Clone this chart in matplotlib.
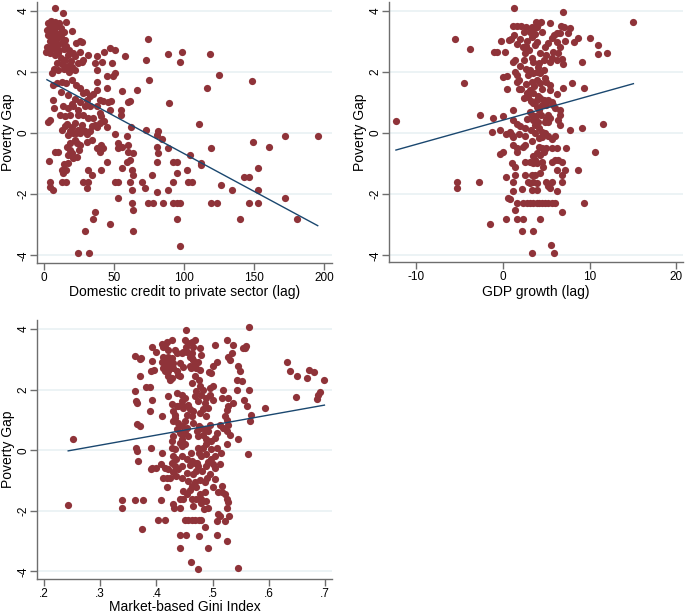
import matplotlib
matplotlib.use("Agg")
import matplotlib.pyplot as plt

plt.rcParams['font.family'] = ['Liberation Sans', 'DejaVu Sans']
plt.rcParams['axes.unicode_minus'] = False

# ---------------- data ----------------
y_label = "Poverty Gap"
y_ticks = [-4, -2, 0, 2, 4]
y_ticklabels = ["-4", "-2", "0", "2", "4"]

# Panel 1: Domestic credit to private sector (lag)
credit_label = "Domestic credit to private sector (lag)"
credit_ticks = [0, 50, 100, 150, 200]
credit_ticklabels = ["0", "50", "100", "150", "200"]
credit_x = [
    7.9, 13.3, 15.5, 3, 5, 8, 11, 4, 6.5, 9,
    12, 2, 5, 8, 10.5, 14, 20, 3, 6, 9,
    12, 15, 4, 7, 10, 13, 16, 2, 5, 8,
    11, 14, 18, 1.5, 4.5, 7.5, 10, 17, 21, 23,
    25.5, 27, 12, 15, 19, 22, 9, 13, 17, 20,
    24, 27, 7, 10, 14, 18, 22, 6, 6.7, 9,
    12.5, 16, 19.8, 23, 25.7, 28, 31, 33, 29, 24.5,
    21, 17.4, 13.8, 11.4, 15, 18.6, 24.5, 28, 31.7, 27,
    22, 15, 12.6, 6.7, 7.4, 4.3, 3, 18.6, 23, 29,
    33, 34, 35, 37.6, 40, 41, 36.4, 33, 35.2, 37.6,
    40, 42.4, 46, 48, 47, 55, 55.3, 43, 37.6, 45,
    49.5, 50.7, 45, 37.6, 36.4, 41.7, 48.3, 37.6, 43, 47,
    51, 58, 25.7, 28, 31.7, 74.5, 72.6, 88.8, 98.6, 97.4,
    75.2, 66.2, 89.5, 55.5, 60, 61.2, 62.1, 59, 50.7, 73,
    81.7, 12, 17, 22, 26, 30, 20, 19.8, 16.5, 17.4,
    21, 24.5, 25.7, 31, 28, 22, 18.6, 23.3, 25.7, 30.5,
    34, 38, 40, 44.8, 53, 55.5, 53, 60, 60, 63.8,
    61.4, 59, 55.5, 62.6, 63.8, 50.7, 53, 61.4, 53, 62.6,
    62.6, 63.8, 47, 63.8, 80.5, 84, 80.5, 81.7, 88.8, 80.5,
    92.4, 94.7, 77, 69.8, 72, 80.5, 88.8, 74.5, 78, 85,
    92.4, 94.7, 97, 92.4, 94.7, 102, 103, 105.5, 104, 95.2,
    97, 24, 32.4, 29.3, 36.4, 35.2, 31.7, 34, 28, 31.7,
    31, 41, 44.8, 40, 42.4, 41, 37.6, 12.6, 16, 13.8,
    16, 12.6, 14.5, 17.4, 21, 23.3, 19.8, 18.6, 16.2, 10.2,
    7.9, 3.8, 4, 4.3, 6.7, 17.4, 25, 118.6, 125, 116.7,
    148.8, 111, 172, 195.5, 149, 160.7, 119, 112, 112, 126.7,
    134, 142.6, 146.6, 152.6, 152.6, 119.3, 123.8, 146.6, 152.6, 172,
    139.8, 181,
]
credit_y = [
    4.08, 3.93, 3.64, 3.6, 3.65, 3.62, 3.6, 3.5, 3.45, 3.5,
    3.42, 3.35, 3.3, 3.3, 3.25, 3.3, 3.34, 3.2, 3.15, 3.1,
    3.12, 3.05, 3.0, 2.95, 2.9, 2.95, 2.85, 2.8, 2.82, 2.75,
    2.7, 2.75, 2.7, 2.65, 2.6, 2.55, 2.6, 2.55, 2.6, 2.93,
    3.02, 2.98, 2.45, 2.4, 2.35, 2.5, 2.3, 2.25, 2.2, 2.15,
    2.3, 2.33, 2.1, 2.05, 2.1, 2.0, 2.05, 1.95, 1.58, 1.63,
    1.68, 1.62, 1.74, 1.58, 1.47, 1.3, 1.09, 0.87, 0.87, 0.76,
    0.87, 0.82, 0.87, 0.6, 0.54, 0.6, 0.6, 0.6, 0.49, 0.27,
    0.33, 0.22, 0.11, 1.09, 0.82, 0.43, 0.37, 0.05, 0.0, 0.05,
    0.05, 0.22, 0.49, 0.87, 0.65, 0.54, 0.27, 1.2, 1.26, 1.41,
    1.09, 1.04, 1.0, 1.04, 0.76, 0.74, 0.6, 0.4, 1.68, 1.85,
    1.87, 1.95, 1.47, 2.07, 2.3, 2.33, 2.28, 2.52, 2.66, 2.77,
    2.72, 2.52, 2.66, 2.4, 2.56, 3.08, 2.39, 2.58, 2.66, 2.32,
    1.72, 1.41, 0.98, 1.36, 1.0, 1.04, 0.18, -0.09, -0.02, 0.11,
    0.08, 1.35, 1.25, 1.1, 1.0, 1.35, 0.95, 0.21, 0.3, -0.07,
    -0.01, 0.1, -0.01, -0.05, 0.1, -0.23, -0.34, -0.34, -0.39, -0.28,
    -0.23, 0.2, 0.32, 0.21, -0.34, -0.45, -0.5, -0.39, -0.61, -0.66,
    -0.88, -0.94, -1.15, -1.21, -1.37, -1.59, -1.59, -1.59, -2.13, -1.86,
    -2.3, -2.52, -2.97, -3.22, -0.07, -0.2, -0.45, -0.66, -0.5, -0.94,
    -0.94, -0.94, -1.37, -1.59, -1.81, -1.92, -1.86, -2.3, -2.3, -2.3,
    -2.3, -2.3, -2.3, -1.59, -1.32, -1.21, -1.59, -1.59, -0.72, -2.82,
    -3.69, -3.91, -3.91, -3.2, -2.57, -2.82, -1.21, -1.37, -1.59, -1.59,
    -1.81, -1.21, -0.94, -0.61, -0.5, -0.39, -0.5, -1.59, -1.59, -1.31,
    -1.2, -1.21, -1.0, -0.99, -0.83, -0.77, -0.66, -0.55, -0.45, -0.61,
    -0.61, -0.92, -1.6, -1.75, -1.86, -0.72, -0.55, 2.58, 1.9, 1.46,
    1.71, 0.28, -0.1, -0.1, -0.28, -0.45, -0.5, -0.97, -1.04, -1.7,
    -1.88, -1.43, -1.45, -1.13, -1.88, -2.3, -2.3, -2.3, -2.3, -2.12,
    -2.82, -2.82,
]
credit_fit_x = [2.1, 195.5]
credit_fit_y = [1.74, -3.03]

# Panel 2: GDP growth (lag)
gdp_label = "GDP growth (lag)"
gdp_ticks = [-10, 0, 10, 20]
gdp_ticklabels = ["-10", "0", "10", "20"]
gdp_x = [
    -12.35, -5.5, -3.8, -4.5, -2.7, -1.1, -1.0, -0.7, 0, -0.2,
    0.2, 0.5, 0, 0.5, 1.2, 1.2, 1.3, 1.2, 1.3, 0.9,
    2.0, 1.6, 1.2, 1.4, 1.4, 2.5, 2.6, 1.9, 2.1, 2.4,
    3.8, 4.4, 5.4, 6.9, 6.7, 7.0, 6.2, 6.6, 7.5, 7.7,
    7.2, 8.2, 8.7, 10, 11, 12, 10.9, 9.15, 6.9, 6.8,
    6.2, 8, 9.3, 6.9, 6.2, 5.2, 6.6, 6.6, 5.4, 5.0,
    6.6, 7.7, 9.1, 11.5, 15.0, 6.0, -1.3, -0.35, 1.6, 2.1,
    2.7, 3.3, 3.5, 3.9, 4.2, 3.1, 3.5, 3.3, 3.7, 2.4,
    2.8, 4.5, 0.7, 5.6, 5.2, 4.8, 6.2, 6.6, 5.9, 3.9,
    3.7, 2.3, 3.0, 4.3, 5.0, 5.8, 6.4, 5.6, 5.4, 3.3,
    3.5, 4.1, 4.7, 2.0, 2.4, 4.0, 2.7, 3.1, 2.9, 3.5,
    3.9, 4.3, 4.7, 4.8, 3.9, 3.3, 4.3, 5.0, 3.6, 1.6,
    1.6, 1.8, 2.6, 2.8, 3.1, 3.5, 2.9, 4.5, 5.4, 5.4,
    4.0, 3.2, 3.9, 4.3, 4.7, 4.5, 3.9, 5.0, 3.5, 4.1,
    5.6, 5.8, 6.0, 4.4, 3.1, 3.3, 3.5, 5.2, 4.8, 5.2,
    6.4, 3.7, 2.0, 2.5, 4.1, 4.5, 0.8, 3.2, 4.0, 3.8,
    2.8, 1.6, 0.4, 1.0, 1.2, 1.8, 2.5, 3.7, 4.1, 4.5,
    4.8, 5.2, 5.6, 3.4, 1.1, 1.6, 2.3, 2.5, 1.6, 0.0,
    -0.3, 4.1, 4.5, 3.9, 4.3, 4.7, 3.5, 3.7, 5.0, 5.6,
    6.2, 7.3, 1.0, 2.5, 3.1, 3.5, 3.9, 4.5, 5.6, 6.0,
    6.4, 6.8, 4.6, 1.4, 6.2, 7.2, 8.7, 0.4, 1.4, 2.5,
    3.3, 3.7, 4.3, 6.8, 1.2, 2.9, 3.1, 3.5, 3.9, 5.0,
    5.6, 6.8, -2.73, 2.15, 3.3, 3.9, 5.2, 5.4, 6.2, 1.2,
    0.6, 0.8, 1.6, 2.3, 3.1, 3.9, 4.5, 4.8, 5.2, 5.6,
    6.0, 1.4, 6.8, 0.35, 1.6, 2.3, 4.3, -1.5, 2.15, 3.5,
    5.5, 3.4, 5.9, -5.35, -5.35, 9.3, 10.6, 2.8, 3.5, 4.2,
]
gdp_y = [
    0.38, 3.07, 2.74, 1.63, 0.57, 0.49, 2.64, 2.64, 0.54, 3.02,
    2.66, 1.43, 1.83, 1.87, 0.43, 0.76, 4.08, 3.5, 3.2, 3.07,
    3.07, 2.9, 2.33, 2.4, 2.0, 2.6, 2.83, 1.43, 1.43, 1.14,
    3.64, 3.64, 3.59, 3.95, 3.5, 3.45, 3.26, 3.26, 3.26, 3.42,
    3.0, 2.97, 3.1, 3.1, 2.88, 2.6, 2.57, 2.32, 2.25, 2.43,
    2.38, 1.63, 1.47, 1.47, 1.27, 1.09, 0.76, 0.6, 0.5, 0.45,
    0.27, 0.11, 0.16, 0.29, 3.64, -0.09, 0.02, 0.1, 3.5, 3.48,
    3.45, 3.45, 3.4, 3.45, 3.6, 3.3, 3.2, 3.15, 3.25, 3.3,
    3.0, 3.3, 3.04, 3.1, 2.93, 2.82, 2.98, 2.82, 3.2, 2.98,
    2.88, 2.82, 2.7, 2.6, 2.55, 2.66, 2.6, 2.44, 2.33, 2.44,
    2.33, 2.28, 2.39, 2.2, 2.4, 2.15, 2.1, 2.06, 1.9, 1.95,
    2.0, 1.95, 2.06, 1.79, 1.74, 1.68, 1.63, 1.68, 1.55, 1.9,
    1.68, 1.74, 1.6, 1.3, 1.4, 1.3, 1.19, 1.45, 1.4, 1.57,
    1.2, 1.05, 1.08, 1.13, 1.08, 0.92, 0.86, 0.92, 0.97, 0.75,
    1.0, 0.92, 0.81, 0.6, 0.7, 0.59, 0.43, 0.59, 0.35, 0.37,
    0.43, 0.26, 0.21, 0.15, 0.15, 0.04, 0.04, 0.1, 0.35, 0.55,
    0.45, 0.3, -0.05, -0.07, -0.12, -0.03, -0.1, -0.01, -0.17, -0.12,
    -0.01, -0.1, -0.2, -0.25, -0.39, -0.5, -0.45, -0.39, -0.61, -0.61,
    -0.68, -0.45, -0.5, -0.66, -0.72, -0.61, -0.77, -0.88, -0.5, -0.5,
    -0.5, -0.5, -0.97, -0.94, -0.94, -0.99, -0.99, -0.94, -0.94, -0.88,
    -0.9, -0.94, -1.1, -1.1, -1.21, -1.21, -1.21, -1.43, -1.37, -1.37,
    -1.37, -1.37, -1.32, -1.37, -1.61, -1.59, -1.64, -1.59, -1.64, -1.62,
    -1.59, -1.61, -1.61, -1.84, -1.86, -1.86, -1.75, -1.81, -1.9, -1.9,
    -2.13, -2.15, -2.28, -2.28, -2.28, -2.28, -2.28, -2.28, -2.28, -2.28,
    -2.28, -2.52, -2.6, -2.82, -2.82, -2.82, -2.82, -2.98, -3.2, -3.2,
    -3.68, -3.91, -3.91, -1.59, -1.79, -2.3, -0.64, -2.28, -2.28, -2.28,
]
gdp_fit_x = [-12.35, 15.04]
gdp_fit_y = [-0.56, 1.61]

# Panel 3: Market-based Gini Index
gini_label = "Market-based Gini Index"
gini_ticks = [0.2, 0.3, 0.4, 0.5, 0.6, 0.7]
gini_ticklabels = [".2", ".3", ".4", ".5", ".6", ".7"]
gini_x = [
    0.252, 0.362, 0.370, 0.372, 0.392, 0.400, 0.393, 0.371, 0.362, 0.364,
    0.366, 0.381, 0.389, 0.390, 0.396, 0.393, 0.389, 0.410, 0.365, 0.371,
    0.364, 0.365, 0.368, 0.390, 0.410, 0.421, 0.427, 0.433, 0.436, 0.410,
    0.415, 0.418, 0.427, 0.436, 0.452, 0.436, 0.430, 0.424, 0.418, 0.415,
    0.421, 0.424, 0.447, 0.454, 0.463, 0.469, 0.445, 0.439, 0.430, 0.454,
    0.451, 0.457, 0.445, 0.448, 0.430, 0.427, 0.442, 0.445, 0.427, 0.430,
    0.445, 0.454, 0.463, 0.472,
    0.242, 0.338, 0.362, 0.377, 0.339, 0.374, 0.403, 0.415, 0.409, 0.400,
    0.393, 0.390, 0.412, 0.418, 0.424, 0.418, 0.430, 0.432, 0.442, 0.442,
    0.448, 0.427, 0.433, 0.439, 0.445, 0.430, 0.445, 0.447, 0.442, 0.453,
    0.442, 0.451, 0.457, 0.463, 0.469, 0.475, 0.480, 0.462, 0.474, 0.457,
    0.463, 0.465, 0.471, 0.468, 0.474, 0.460, 0.463, 0.486, 0.476, 0.491,
    0.455, 0.470, 0.480, 0.488, 0.465, 0.480, 0.484, 0.492, 0.471, 0.477,
    0.486, 0.477, 0.468, 0.486, 0.495, 0.500, 0.490, 0.505, 0.480, 0.489,
    0.498, 0.504, 0.515, 0.462, 0.475, 0.510, 0.509, 0.408, 0.415, 0.420,
    0.435, 0.435, 0.454, 0.459, 0.482, 0.488, 0.500, 0.492, 0.505,
    0.412, 0.421, 0.450, 0.457, 0.463, 0.465, 0.453, 0.447, 0.445, 0.433,
    0.421, 0.412, 0.410, 0.415, 0.421, 0.427, 0.430, 0.412, 0.421, 0.460,
    0.465, 0.474, 0.468, 0.462, 0.460, 0.471, 0.477, 0.463, 0.442, 0.439,
    0.442, 0.494, 0.498, 0.427, 0.445, 0.451, 0.445, 0.436, 0.448, 0.457,
    0.460, 0.454, 0.463, 0.466, 0.463, 0.475, 0.477, 0.483, 0.471, 0.480,
    0.468, 0.474, 0.486, 0.489, 0.495, 0.501, 0.495, 0.501, 0.492, 0.483,
    0.477, 0.489, 0.433, 0.430, 0.439, 0.445, 0.436, 0.442, 0.451, 0.466,
    0.475, 0.480, 0.486, 0.472, 0.495, 0.492, 0.483, 0.474, 0.489, 0.498,
    0.504, 0.507, 0.433, 0.451, 0.474, 0.483, 0.489, 0.498, 0.507,
    0.565, 0.525, 0.537, 0.560, 0.557, 0.554, 0.534, 0.528, 0.531, 0.546,
    0.549, 0.543, 0.552, 0.519, 0.516, 0.528, 0.525, 0.528, 0.537, 0.543,
    0.555, 0.564, 0.561, 0.593, 0.632, 0.638, 0.650, 0.648, 0.668, 0.672,
    0.680, 0.686, 0.688, 0.691, 0.699, 0.569, 0.566, 0.525, 0.513, 0.519,
    0.525, 0.531, 0.528, 0.522, 0.546, 0.526, 0.563, 0.513, 0.516, 0.516,
    0.522, 0.525, 0.528, 0.525, 0.522, 0.530, 0.513, 0.526, 0.546, 0.507,
    0.507, 0.504, 0.507, 0.501, 0.477, 0.480, 0.468,
]
gini_y = [
    0.36, 3.1, 3.0, 3.03, 3.42, 3.23, 2.96, 2.44, 1.95, 1.62,
    1.57, 2.09, 2.09, 2.6, 2.64, 1.65, 1.29, 1.13, 0.87, 0.8,
    0.09, -0.02, -0.37, 0.09, -0.1, 1.78, 1.53, 1.15, 1.89, 3.52,
    3.48, 3.58, 3.64, 3.2, 3.97, 2.6, 2.71, 2.87, 2.76, 2.6,
    2.44, 2.33, 2.76, 3.25, 3.2, 3.64, 1.5, 1.45, 1.3, 0.75,
    0.58, 0.47, 0.36, 0.58, 0.47, 0.3, 0.25, 0.14, 0.09, -0.19,
    -0.19, -0.3, -0.35, -0.41,
    -1.8, -1.63, -1.63, -1.63, -1.91, -2.59, -2.3, -2.3, -1.63, -0.6,
    -0.57, -0.62, -0.93, -0.93, -0.9, -1.22, -1.78, -1.91, -1.91, -1.6,
    -1.6, -0.41, -0.51, -0.62, -0.51, -0.73, -0.93, -1.36, -2.81, -2.81,
    -3.22, -2.3, -2.3, -2.3, -2.3, -2.3, -2.3, -3.7, -3.92, -1.0,
    -1.17, -0.79, -0.68, -0.41, -0.52, -1.3, -1.6, -2.54, -2.83, -3.22,
    -1.45, -1.6, -1.6, -1.66, -1.83, -1.75, -1.95, -1.9, -1.2, -1.44,
    -1.38, -0.98, -1.06, -1.06, -0.8, -1.2, -0.93, -0.95, -0.2, -0.13,
    -0.3, -0.2, -0.1, -0.08, -0.1, -1.37, -2.1, -0.45, -0.57, -0.63,
    -0.3, -0.84, -0.74, -0.49, -0.7, -0.52, -0.47, -0.4, -0.6,
    3.42, 3.31, 3.64, 3.53, 3.58, 3.42, 3.42, 3.26, 3.2, 3.31,
    3.09, 3.09, 2.93, 2.87, 2.93, 3.04, 2.87, 2.71, 2.6, 3.09,
    2.98, 2.93, 2.87, 2.71, 2.77, 2.71, 2.66, 3.04, 2.87, 2.49,
    2.44, 2.57, 2.55, 2.38, 1.84, 1.73, 1.62, 1.45, 1.4, 1.51,
    1.35, 1.18, 1.12, 1.29, 2.22, 2.33, 2.11, 2.0, 1.95, 1.84,
    1.78, 1.62, 1.57, 1.73, 2.05, 2.11, 1.84, 1.67, 1.4, 1.35,
    1.23, 1.12, 1.07, 0.96, 0.91, 0.8, 0.69, 0.58, 0.96, 0.91,
    0.8, 0.74, 0.69, 0.63, 0.85, 0.63, 0.52, 0.47, 0.36, 0.3,
    0.41, 0.58, 0.03, 0.2, 0.09, 0.09, 0.2, 0.03, 0.09,
    4.08, 3.64, 3.48, 3.45, 3.39, 3.36, 3.2, 3.09, 2.98, 2.79,
    2.63, 2.33, 2.27, 2.0, 1.73, 1.73, 1.34, 1.45, 1.56, 2.0,
    1.67, 2.0, 1.45, 1.4, 2.9, 2.6, 2.44, 1.75, 2.38, 2.66,
    2.59, 1.69, 1.84, 1.91, 2.33, 1.18, 0.98, 1.01, 0.85, 0.74,
    0.63, 0.52, 0.85, 1.12, 0.38, 0.22, -0.11, -0.46, -1.17, -1.39,
    -1.45, -1.61, -1.72, -1.89, -2.32, -2.16, -2.16, -3.0, -3.9, -2.81,
    -2.32, 3.48, 2.93, 2.77, 3.37, 3.15, 2.44,
]
gini_fit_x = [0.243, 0.699]
gini_fit_y = [-0.02, 1.49]

# ---------------- style ----------------
MARKER = '#8f3339'
LINE = '#1a476f'
GRID = '#e9f1f3'
SPINE = '#6e6e6e'

W, H = 685, 616
fig = plt.figure(figsize=(W / 100, H / 100), dpi=100)
fig.patch.set_facecolor('white')


def make_axes(l, t, r, b):
    return fig.add_axes([l / W, 1 - b / H, (r - l) / W, (b - t) / H])


def draw(ax, xs, ys, fx, fy, xticks, xticklabels, xlim, ylim, xlabel,
         left_px, bottom_px, width_px, height_px, xlab_top_px):
    ax.scatter(xs, ys, s=27, color=MARKER, linewidths=0, zorder=3)
    ax.plot(fx, fy, color=LINE, lw=1.0, zorder=4)
    ax.set_xlim(xlim)
    ax.set_ylim(ylim)
    ax.set_xticks(xticks)
    ax.set_xticklabels(xticklabels)
    ax.set_yticks(y_ticks)
    ax.set_yticklabels(y_ticklabels, rotation=90, va='center')
    for s in ['top', 'right']:
        ax.spines[s].set_visible(False)
    for s in ['left', 'bottom']:
        ax.spines[s].set_color(SPINE)
        ax.spines[s].set_linewidth(1.0)
    ax.grid(axis='y', color=GRID, lw=1.2)
    ax.set_axisbelow(True)
    ax.tick_params(direction='out', length=5, width=1, color=SPINE,
                   labelsize=8.5, labelcolor='black')
    ax.tick_params(axis='x', pad=1.5)
    ax.tick_params(axis='y', pad=0.5)
    ax.set_xlabel(xlabel, fontsize=10)
    ax.set_ylabel(y_label, fontsize=10)
    # label placement (axes fraction)
    ax.yaxis.set_label_coords((15 - left_px) / width_px, 0.5)
    ax.xaxis.set_label_coords(0.5, -(xlab_top_px - bottom_px) / height_px)


ax1 = make_axes(37, 2, 332, 263)
draw(ax1, credit_x, credit_y, credit_fit_x, credit_fit_y, credit_ticks,
     credit_ticklabels, (-5.0, 205.7), (-4.25, 4.28), credit_label,
     37, 263, 295, 261, 285)

ax2 = make_axes(389, 2, 683, 262)
draw(ax2, gdp_x, gdp_y, gdp_fit_x, gdp_fit_y, gdp_ticks,
     gdp_ticklabels, (-13.15, 20.76), (-4.22, 4.28), gdp_label,
     389, 262, 294, 260, 285)
ax2.yaxis.set_label_coords((367 - 389) / 294, 0.5)

ax3 = make_axes(37, 320, 332, 579)
draw(ax3, gini_x, gini_y, gini_fit_x, gini_fit_y, gini_ticks,
     gini_ticklabels, (0.1875, 0.7125), (-4.25, 4.3), gini_label,
     37, 579, 295, 259, 600)

fig.savefig('out.png', dpi=100, facecolor='white')
